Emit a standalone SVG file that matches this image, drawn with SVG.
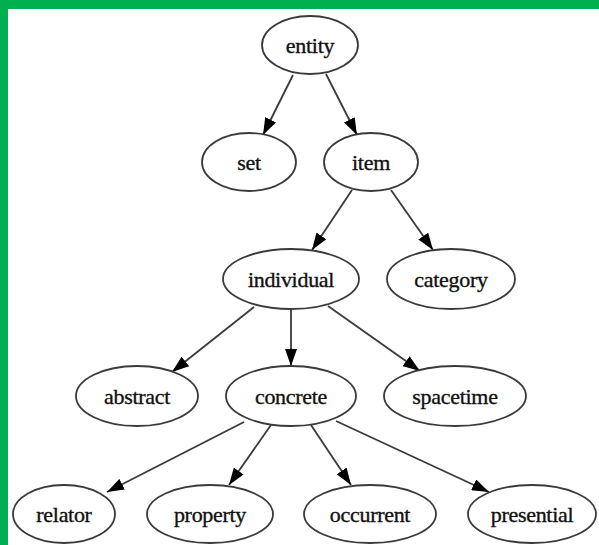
<svg xmlns="http://www.w3.org/2000/svg" width="599" height="545" viewBox="0 0 599 545">
<style>
.node ellipse{fill:#fff;stroke:#3a3a3a;stroke-width:1.8}
.node text{font-family:"Liberation Serif","Times New Roman",serif;font-size:22px;fill:#111;stroke:#111;stroke-width:0.35;text-anchor:middle;dominant-baseline:central;letter-spacing:-0.3px}
.edges path{fill:none;stroke:#3a3a3a;stroke-width:1.8;marker-end:url(#arr)}
</style>
<defs>
<marker id="arr" viewBox="0 0 17 12" refX="17" refY="6" markerWidth="17" markerHeight="12" markerUnits="userSpaceOnUse" orient="auto">
<path d="M0,0 L17,6 L0,12 z" fill="#000"/>
</marker>
</defs>
<rect x="0" y="0" width="599" height="545" fill="#fff"/>
<rect x="0" y="0" width="599" height="9" fill="#00b050"/>
<rect x="0" y="0" width="8" height="545" fill="#00b050"/>
<g class="edges">
<path d="M293,75 L263,135"/>
<path d="M326,74 L357,135"/>
<path d="M352,190 L312,250"/>
<path d="M391,190 L433,250"/>
<path d="M254,307 L172,372"/>
<path d="M291,310 L291,366"/>
<path d="M328,306 L420,371"/>
<path d="M244,422 L107,492"/>
<path d="M271,425 L229,485"/>
<path d="M311,425 L351,485"/>
<path d="M336,421 L489,492"/>
</g>
<g id="entity" class="node"><ellipse cx="310" cy="45" rx="48" ry="29"/><text x="310" y="45">entity</text></g>
<g id="set" class="node"><ellipse cx="249" cy="162" rx="47" ry="29"/><text x="249" y="162">set</text></g>
<g id="item" class="node"><ellipse cx="371" cy="162" rx="47" ry="29"/><text x="371" y="162">item</text></g>
<g id="individual" class="node"><ellipse cx="291" cy="279" rx="68" ry="30"/><text x="291" y="279">individual</text></g>
<g id="category" class="node"><ellipse cx="451" cy="279" rx="64" ry="30"/><text x="451" y="279">category</text></g>
<g id="abstract" class="node"><ellipse cx="137" cy="396" rx="61" ry="30"/><text x="137" y="396">abstract</text></g>
<g id="concrete" class="node"><ellipse cx="291" cy="396" rx="65" ry="30"/><text x="291" y="396">concrete</text></g>
<g id="spacetime" class="node"><ellipse cx="455" cy="396" rx="71" ry="30"/><text x="455" y="396">spacetime</text></g>
<g id="relator" class="node"><ellipse cx="64" cy="514" rx="51" ry="29"/><text x="64" y="514">relator</text></g>
<g id="property" class="node"><ellipse cx="210" cy="514" rx="63" ry="29"/><text x="210" y="514">property</text></g>
<g id="occurrent" class="node"><ellipse cx="370" cy="514" rx="66" ry="29"/><text x="370" y="514">occurrent</text></g>
<g id="presential" class="node"><ellipse cx="532" cy="514" rx="64" ry="29"/><text x="532" y="514">presential</text></g>
</svg>
